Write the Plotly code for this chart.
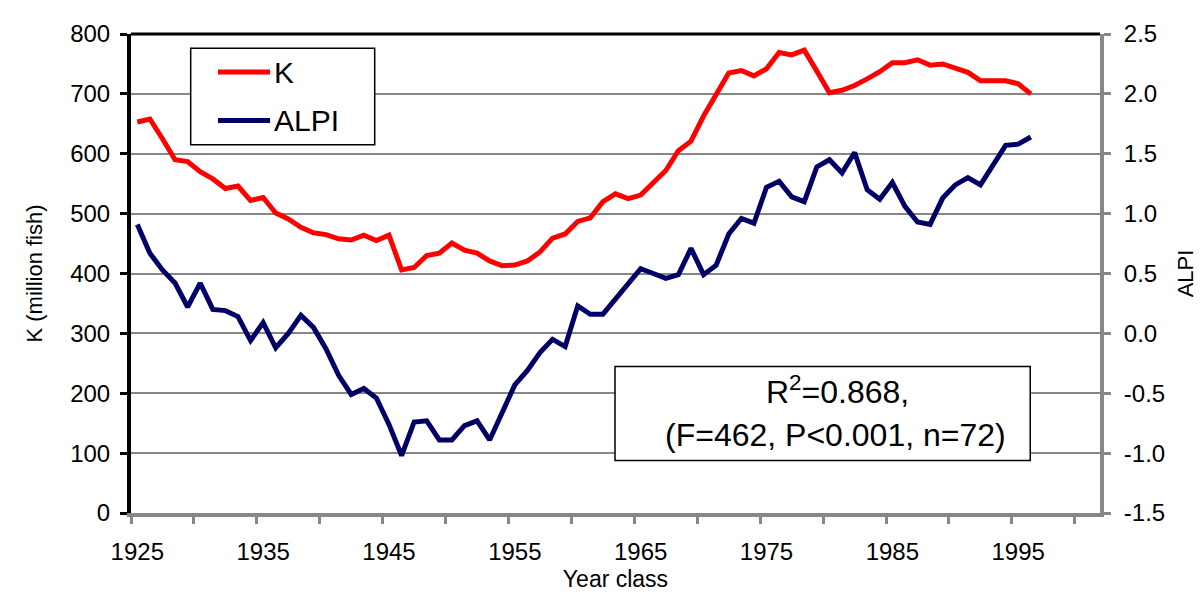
import plotly.graph_objects as go

# year classes 1925-1996 (n=72)
years = list(range(1925, 1997))

k_million_fish = [
    653, 658, 625, 590, 587, 570, 558, 542, 546, 522,
    527, 501, 491, 477, 468, 465, 458, 456, 464, 455,
    464, 406, 410, 430, 434, 451, 439, 434, 421, 413,
    414, 421, 436, 459, 466, 487, 493, 520, 533, 525,
    531, 551, 572, 605, 621, 663, 701, 735, 739, 730,
    742, 769, 765, 773, 738, 702, 706, 714, 725, 737,
    752, 752, 757, 748, 750, 742, 736, 722, 722, 722,
    717, 700,
]

alpi = [
    0.91, 0.67, 0.53, 0.42, 0.22, 0.42, 0.20, 0.19, 0.14, -0.06,
    0.09, -0.12, 0.00, 0.15, 0.05, -0.13, -0.35, -0.51, -0.46, -0.54,
    -0.76, -1.02, -0.74, -0.73, -0.89, -0.89, -0.77, -0.73, -0.89, -0.66,
    -0.43, -0.31, -0.16, -0.05, -0.11, 0.23, 0.16, 0.16, 0.29, 0.41,
    0.54, 0.50, 0.46, 0.49, 0.71, 0.49, 0.57, 0.83, 0.96, 0.92,
    1.22, 1.27, 1.14, 1.10, 1.39, 1.45, 1.34, 1.51, 1.20, 1.12,
    1.26, 1.06, 0.93, 0.91, 1.13, 1.24, 1.30, 1.24, 1.41, 1.57,
    1.58, 1.64,
]

x_labels = list(range(1925, 2000, 10))
alpi_ticks = [-1.5, -1.0, -0.5, 0.0, 0.5, 1.0, 1.5, 2.0, 2.5]
alpi_ticktext = ["-1.5", "-1.0", "-0.5", "0.0", "0.5", "1.0", "1.5", "2.0", "2.5"]
stats_line1 = "R<sup>2</sup>=0.868,"
stats_line2 = "(F=462, P&lt;0.001, n=72)"

FONT = "Liberation Sans, Arial, sans-serif"
GRAY = "#878787"
RED = "#ff0000"
NAVY = "#000066"

fig = go.Figure()
fig.add_trace(go.Scatter(x=years, y=k_million_fish, name="K", mode="lines",
                         line=dict(color=RED, width=5)))
fig.add_trace(go.Scatter(x=years, y=alpi, name="ALPI", mode="lines", yaxis="y2",
                         line=dict(color=NAVY, width=5)))

fig.update_layout(
    width=1204, height=593,
    margin=dict(l=123, r=112, t=23, b=79),
    paper_bgcolor="white", plot_bgcolor="white",
    font=dict(family=FONT, color="black"),
    showlegend=False,
    xaxis=dict(
        range=[1924.5, 2001.5], tickvals=x_labels, ticks="", ticklen=0,
        ticklabelstandoff=14,
        tickfont=dict(size=24), showgrid=False, zeroline=False,
        showline=True, linecolor=GRAY, linewidth=4,
        minor=dict(tick0=1924.5, dtick=5, ticks="outside", ticklen=7,
                   tickwidth=3, tickcolor=GRAY, showgrid=False),
        title=dict(text="Year class", font=dict(size=23), standoff=8),
    ),
    yaxis=dict(
        range=[0, 800], dtick=100, tickfont=dict(size=24),
        ticks="outside", ticklen=7, tickwidth=3, tickcolor="black",
        ticklabelstandoff=5,
        showline=True, linecolor="black", linewidth=4,
        showgrid=True, gridcolor=GRAY, gridwidth=2, zeroline=False,
        title=dict(text="K (million fish)", font=dict(size=22), standoff=22),
    ),
    yaxis2=dict(
        range=[-1.5, 2.5], tickvals=alpi_ticks, ticktext=alpi_ticktext,
        tickfont=dict(size=24),
        overlaying="y", side="right",
        ticks="outside", ticklen=7, tickwidth=3, tickcolor=GRAY,
        ticklabelstandoff=8,
        showline=True, linecolor=GRAY, linewidth=4,
        showgrid=False, zeroline=False,
        title=dict(text="ALPI", font=dict(size=22), standoff=14),
    ),
)

# black top border of the plot area
fig.add_shape(type="line", xref="paper", yref="paper", x0=0, x1=1, y0=1, y1=1,
              line=dict(color="black", width=3))

# legend box drawn by hand (Excel style, long line samples)
fig.add_shape(type="rect", xref="paper", yref="paper",
              x0=0.0616, x1=0.2515, y0=0.7687, y1=0.970,
              line=dict(color="black", width=1.5), fillcolor="white", layer="above")
for label, color, yy in [("K", RED, 0.9206), ("ALPI", NAVY, 0.8195)]:
    fig.add_shape(type="line", xref="paper", yref="paper",
                  x0=0.0898, x1=0.1435, y0=yy, y1=yy, layer="above",
                  line=dict(color=color, width=5))
    fig.add_annotation(xref="paper", yref="paper", x=0.1455, y=yy, text=label,
                       showarrow=False, xanchor="left", yanchor="middle",
                       font=dict(size=30, family=FONT))

# statistics box
fig.add_shape(type="rect", xref="paper", yref="paper",
              x0=0.4995, x1=0.928, y0=0.1095, y1=0.306,
              line=dict(color="black", width=1.5), fillcolor="white", layer="above")
fig.add_annotation(xref="paper", yref="paper", x=0.7296, y=0.2574, text=stats_line1,
                   showarrow=False, xanchor="center", yanchor="middle",
                   font=dict(size=32, family=FONT))
fig.add_annotation(xref="paper", yref="paper", x=0.727, y=0.1618, text=stats_line2,
                   showarrow=False, xanchor="center", yanchor="middle",
                   font=dict(size=32, family=FONT))

fig.write_html("out.html")
